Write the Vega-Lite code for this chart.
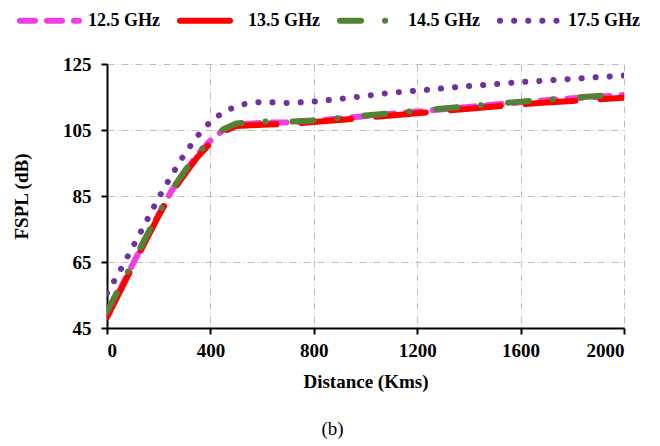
{
  "$schema": "https://vega.github.io/schema/vega-lite/v6.json",
  "width": 517,
  "height": 264,
  "autosize": {"type": "none"},
  "padding": {"left": 107, "top": 64, "right": 36, "bottom": 118},
  "background": "white",
  "title": {"text": "(b)", "orient": "bottom", "anchor": "middle", "dx": -33, "offset": 29, "font": "Liberation Serif", "fontSize": 19, "fontWeight": "normal", "color": "black"},
  "config": {
    "view": {"stroke": null},
    "font": "Liberation Serif",
    "legend": {"labelFont": "Liberation Serif", "titleFont": "Liberation Serif"},
    "axis": {
      "labelFont": "Liberation Serif", "labelFontSize": 19, "labelFontWeight": "bold", "labelColor": "black",
      "titleFont": "Liberation Serif", "titleFontSize": 19, "titleFontWeight": "bold", "titleColor": "black",
      "domainColor": "black", "domainWidth": 2, "tickColor": "black", "tickWidth": 2, "tickSize": 6,
      "gridColor": "#bdbdbd", "gridWidth": 1, "gridDash": [7, 3, 1, 3], "labelPadding": 6
    }
  },
  "data": {"values": [
    {"s": "12.5 GHz", "d": 0, "v": 48.8}, {"s": "12.5 GHz", "d": 50, "v": 56.6}, {"s": "12.5 GHz", "d": 100, "v": 64.4}, {"s": "12.5 GHz", "d": 150, "v": 72}, {"s": "12.5 GHz", "d": 200, "v": 79.5}, {"s": "12.5 GHz", "d": 250, "v": 86.6}, {"s": "12.5 GHz", "d": 300, "v": 92.2}, {"s": "12.5 GHz", "d": 350, "v": 97.5}, {"s": "12.5 GHz", "d": 400, "v": 101.8}, {"s": "12.5 GHz", "d": 450, "v": 105}, {"s": "12.5 GHz", "d": 500, "v": 106.6}, {"s": "12.5 GHz", "d": 600, "v": 107.2}, {"s": "12.5 GHz", "d": 700, "v": 107.3}, {"s": "12.5 GHz", "d": 800, "v": 107.8}, {"s": "12.5 GHz", "d": 900, "v": 108.5}, {"s": "12.5 GHz", "d": 1000, "v": 109.2}, {"s": "12.5 GHz", "d": 1100, "v": 109.9}, {"s": "12.5 GHz", "d": 1200, "v": 110.6}, {"s": "12.5 GHz", "d": 1300, "v": 111.3}, {"s": "12.5 GHz", "d": 1400, "v": 112}, {"s": "12.5 GHz", "d": 1500, "v": 112.7}, {"s": "12.5 GHz", "d": 1600, "v": 113.4}, {"s": "12.5 GHz", "d": 1700, "v": 114}, {"s": "12.5 GHz", "d": 1800, "v": 114.6}, {"s": "12.5 GHz", "d": 1900, "v": 115.1}, {"s": "12.5 GHz", "d": 2000, "v": 115.6},
    {"s": "13.5 GHz", "d": 0, "v": 48.2}, {"s": "13.5 GHz", "d": 50, "v": 56}, {"s": "13.5 GHz", "d": 100, "v": 63.8}, {"s": "13.5 GHz", "d": 150, "v": 71.5}, {"s": "13.5 GHz", "d": 200, "v": 79}, {"s": "13.5 GHz", "d": 250, "v": 86}, {"s": "13.5 GHz", "d": 300, "v": 91.5}, {"s": "13.5 GHz", "d": 350, "v": 96.8}, {"s": "13.5 GHz", "d": 400, "v": 101}, {"s": "13.5 GHz", "d": 450, "v": 104.5}, {"s": "13.5 GHz", "d": 500, "v": 106.2}, {"s": "13.5 GHz", "d": 600, "v": 106.6}, {"s": "13.5 GHz", "d": 700, "v": 106.8}, {"s": "13.5 GHz", "d": 800, "v": 107.4}, {"s": "13.5 GHz", "d": 900, "v": 108}, {"s": "13.5 GHz", "d": 1000, "v": 108.7}, {"s": "13.5 GHz", "d": 1100, "v": 109.4}, {"s": "13.5 GHz", "d": 1200, "v": 110.1}, {"s": "13.5 GHz", "d": 1300, "v": 110.8}, {"s": "13.5 GHz", "d": 1400, "v": 111.4}, {"s": "13.5 GHz", "d": 1500, "v": 112.1}, {"s": "13.5 GHz", "d": 1600, "v": 112.8}, {"s": "13.5 GHz", "d": 1700, "v": 113.3}, {"s": "13.5 GHz", "d": 1800, "v": 113.8}, {"s": "13.5 GHz", "d": 1900, "v": 114.3}, {"s": "13.5 GHz", "d": 2000, "v": 114.8},
    {"s": "14.5 GHz", "d": 0, "v": 50}, {"s": "14.5 GHz", "d": 50, "v": 57.5}, {"s": "14.5 GHz", "d": 100, "v": 65}, {"s": "14.5 GHz", "d": 150, "v": 72.5}, {"s": "14.5 GHz", "d": 200, "v": 79.8}, {"s": "14.5 GHz", "d": 250, "v": 86.8}, {"s": "14.5 GHz", "d": 300, "v": 92.5}, {"s": "14.5 GHz", "d": 350, "v": 97.8}, {"s": "14.5 GHz", "d": 400, "v": 102}, {"s": "14.5 GHz", "d": 450, "v": 105.2}, {"s": "14.5 GHz", "d": 500, "v": 107}, {"s": "14.5 GHz", "d": 600, "v": 107.6}, {"s": "14.5 GHz", "d": 700, "v": 107.5}, {"s": "14.5 GHz", "d": 800, "v": 107.9}, {"s": "14.5 GHz", "d": 900, "v": 108.6}, {"s": "14.5 GHz", "d": 1000, "v": 109.4}, {"s": "14.5 GHz", "d": 1100, "v": 110.1}, {"s": "14.5 GHz", "d": 1200, "v": 110.8}, {"s": "14.5 GHz", "d": 1300, "v": 111.5}, {"s": "14.5 GHz", "d": 1400, "v": 112.2}, {"s": "14.5 GHz", "d": 1500, "v": 112.9}, {"s": "14.5 GHz", "d": 1600, "v": 113.6}, {"s": "14.5 GHz", "d": 1700, "v": 114.2}, {"s": "14.5 GHz", "d": 1800, "v": 114.8}, {"s": "14.5 GHz", "d": 1900, "v": 115.3}, {"s": "14.5 GHz", "d": 2000, "v": 115.8},
    {"s": "17.5 GHz", "d": 0, "v": 55.5}, {"s": "17.5 GHz", "d": 50, "v": 62.3}, {"s": "17.5 GHz", "d": 100, "v": 69.6}, {"s": "17.5 GHz", "d": 150, "v": 77}, {"s": "17.5 GHz", "d": 200, "v": 84.5}, {"s": "17.5 GHz", "d": 250, "v": 91.3}, {"s": "17.5 GHz", "d": 300, "v": 97.7}, {"s": "17.5 GHz", "d": 350, "v": 103.2}, {"s": "17.5 GHz", "d": 400, "v": 107.5}, {"s": "17.5 GHz", "d": 450, "v": 110.4}, {"s": "17.5 GHz", "d": 500, "v": 112.2}, {"s": "17.5 GHz", "d": 550, "v": 113.2}, {"s": "17.5 GHz", "d": 600, "v": 113.5}, {"s": "17.5 GHz", "d": 700, "v": 113.2}, {"s": "17.5 GHz", "d": 800, "v": 113.6}, {"s": "17.5 GHz", "d": 900, "v": 114.4}, {"s": "17.5 GHz", "d": 1000, "v": 115.3}, {"s": "17.5 GHz", "d": 1100, "v": 116.3}, {"s": "17.5 GHz", "d": 1200, "v": 116.9}, {"s": "17.5 GHz", "d": 1300, "v": 117.6}, {"s": "17.5 GHz", "d": 1400, "v": 118.3}, {"s": "17.5 GHz", "d": 1500, "v": 118.9}, {"s": "17.5 GHz", "d": 1600, "v": 119.5}, {"s": "17.5 GHz", "d": 1700, "v": 120}, {"s": "17.5 GHz", "d": 1800, "v": 120.5}, {"s": "17.5 GHz", "d": 1900, "v": 121}, {"s": "17.5 GHz", "d": 2000, "v": 121.5}
  ]},
  "mark": {"type": "line", "strokeWidth": 6, "strokeCap": "round", "strokeJoin": "round", "clip": true},
  "encoding": {
    "x": {"field": "d", "type": "quantitative", "scale": {"domain": [0, 2000], "nice": false}, "axis": {"values": [0, 400, 800, 1200, 1600, 2000], "format": "d", "title": "Distance (Kms)", "titlePadding": 12, "labelPadding": 7, "labelFont": "Liberation Serif", "titleFont": "Liberation Serif"}},
    "y": {"field": "v", "type": "quantitative", "scale": {"domain": [45, 125], "nice": false, "zero": false}, "axis": {"values": [45, 65, 85, 105, 125], "format": "d", "title": "FSPL (dB)", "titlePadding": 31, "labelPadding": 10, "labelFont": "Liberation Serif", "titleFont": "Liberation Serif"}},
    "color": {"field": "s", "type": "nominal", "scale": {"domain": ["12.5 GHz", "13.5 GHz", "14.5 GHz", "17.5 GHz"], "range": ["#ee3ee4", "#ff0000", "#548235", "#7030a0"]},
      "legend": {"orient": "none", "legendX": -90, "legendY": -76, "direction": "horizontal", "title": null, "symbolType": "stroke", "symbolSize": 3481, "symbolStrokeWidth": 6, "labelFont": "Liberation Serif", "labelFontSize": 18, "labelFontWeight": "bold", "labelColor": "black", "labelOffset": 6, "columnPadding": 8, "labelLimit": 200,
        "encode": {"symbols": {"update": {"strokeCap": {"value": "round"}}}}}},
    "strokeDash": {"field": "s", "type": "nominal", "scale": {"domain": ["12.5 GHz", "13.5 GHz", "14.5 GHz", "17.5 GHz"], "range": [[15, 12], [50, 25], [21, 24, 0.1, 27], [0.1, 14]]}, "legend": null}
  }
}
